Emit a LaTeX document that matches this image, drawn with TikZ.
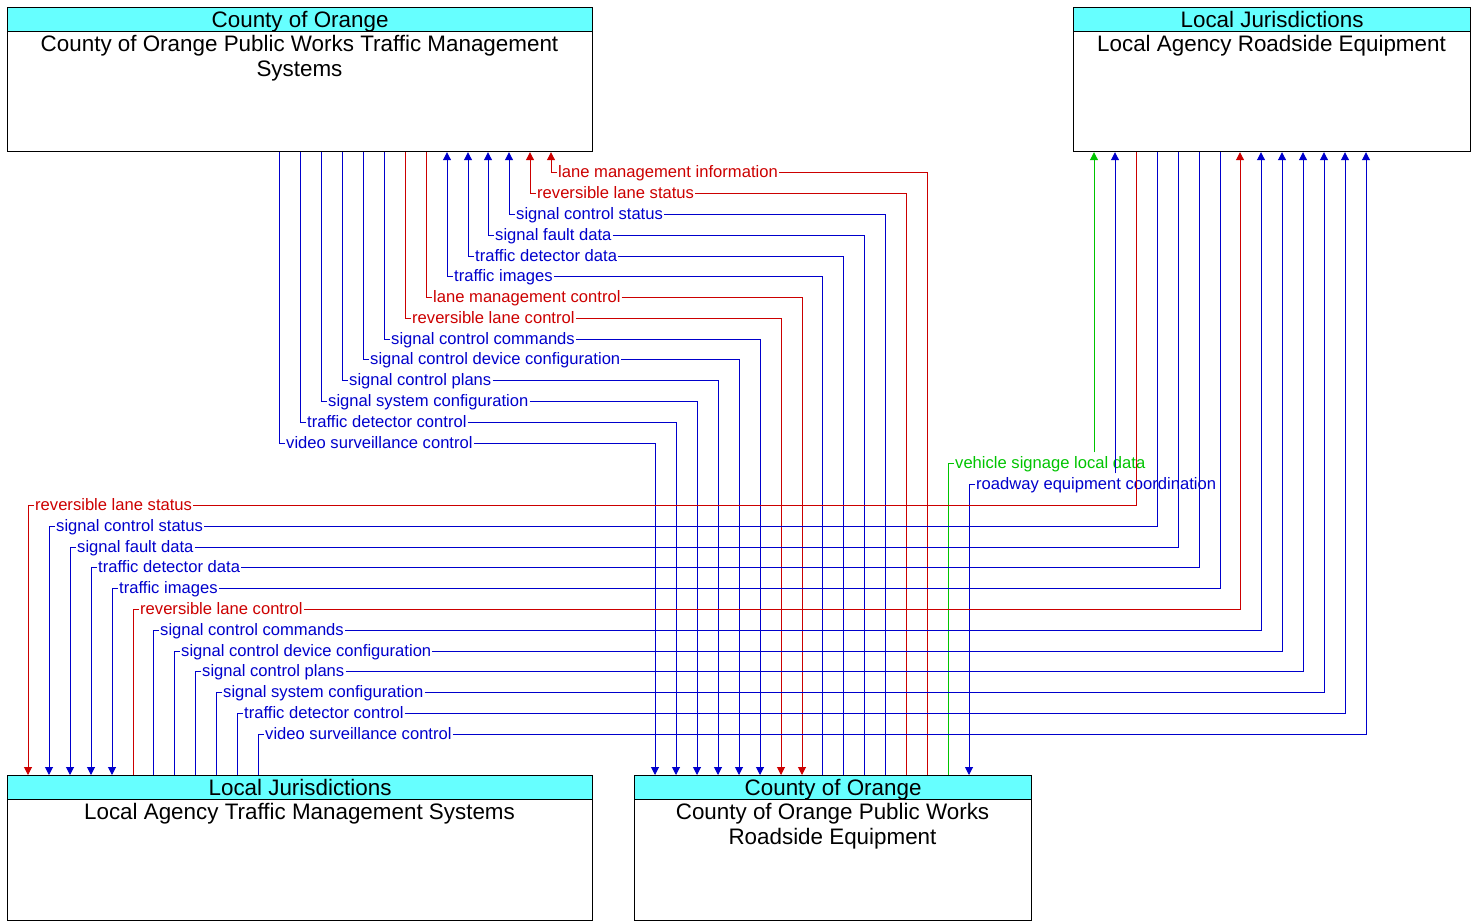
\documentclass[tikz,border=0pt]{standalone}
\usepackage{fontspec}
\setmainfont{Liberation Sans}
\usetikzlibrary{arrows.meta}
\definecolor{fred}{RGB}{204,0,0}
\definecolor{fblue}{RGB}{0,0,204}
\definecolor{fgreen}{RGB}{0,196,0}
\definecolor{hdrcyan}{RGB}{102,255,255}
\newcommand\lblfont{\fontsize{16.6pt}{19pt}\selectfont}
\newcommand\ttlfont{\fontsize{22.4pt}{25.3pt}\selectfont}
\begin{document}
\begin{tikzpicture}[x=1pt,y=-1pt,
  box/.style={draw=black, line width=1.2pt, fill=white, anchor=north west, inner sep=0pt},
  hdr/.style={draw=black, line width=1.2pt, fill=hdrcyan, anchor=north west, inner sep=0pt,
     minimum height=24pt, font=\ttlfont, text height=16pt, text depth=0pt},
  bodytext/.style={font=\ttlfont, anchor=north, align=center, inner sep=0pt},
  lbl/.style={font=\lblfont, anchor=west, inner xsep=1pt, inner ysep=3pt, text height=13pt, text depth=2pt},
  conn/.style={line width=1pt},
  arrowend/.style={-{Triangle[length=8pt,width=8pt]}},
  lr/.style={lbl, text=fred}, lb/.style={lbl, text=fblue}, lg/.style={lbl, text=fgreen},
  cr/.style={conn, draw=fred}, cb/.style={conn, draw=fblue}, cg/.style={conn, draw=fgreen},
]
\useasboundingbox (0,0) rectangle (1473,921);
% boxes
\node[box, minimum width=585pt, minimum height=144pt] (tl) at (7,7) {};
\node[hdr, minimum width=585pt] (tlh) at (7,7) {County of Orange};
\node[bodytext] (tlt) at (299.5,34.7) {County of Orange Public Works Traffic Management\\Systems};

\node[box, minimum width=397pt, minimum height=144pt] (tr) at (1073,7) {};
\node[hdr, minimum width=397pt] (trh) at (1073,7) {Local Jurisdictions};
\node[bodytext] (trt) at (1271.5,34.7) {Local Agency Roadside Equipment};

\node[box, minimum width=585pt, minimum height=145pt] (bl) at (7,775) {};
\node[hdr, minimum width=585pt] (blh) at (7,775) {Local Jurisdictions};
\node[bodytext] (blt) at (299.5,802.7) {Local Agency Traffic Management Systems};

\node[box, minimum width=397pt, minimum height=145pt] (bm) at (634,775) {};
\node[hdr, minimum width=397pt] (bmh) at (634,775) {County of Orange};
\node[bodytext] (bmt) at (832.5,802.7) {County of Orange Public Works\\Roadside Equipment};

% labels
\node[lr] (l1) at (557,172) {lane management information};
\node[lr] (l2) at (536,193) {reversible lane status};
\node[lb] (l3) at (515,214) {signal control status};
\node[lb] (l4) at (494,235) {signal fault data};
\node[lb] (l5) at (474,256) {traffic detector data};
\node[lb] (l6) at (453,276) {traffic images};
\node[lr] (l7) at (432,297) {lane management control};
\node[lr] (l8) at (411,318) {reversible lane control};
\node[lb] (l9) at (390,339) {signal control commands};
\node[lb] (l10) at (369,359) {signal control device configuration};
\node[lb] (l11) at (348,380) {signal control plans};
\node[lb] (l12) at (327,401) {signal system configuration};
\node[lb] (l13) at (306,422) {traffic detector control};
\node[lb] (l14) at (285,443) {video surveillance control};
\node[lg] (l15) at (954,463) {vehicle signage local data};
\node[lb] (l16) at (975,484) {roadway equipment coordination};
\node[lr] (l17) at (34,505) {reversible lane status};
\node[lb] (l18) at (55,526) {signal control status};
\node[lb] (l19) at (76,547) {signal fault data};
\node[lb] (l20) at (97,567) {traffic detector data};
\node[lb] (l21) at (118,588) {traffic images};
\node[lr] (l22) at (139,609) {reversible lane control};
\node[lb] (l23) at (159,630) {signal control commands};
\node[lb] (l24) at (180,651) {signal control device configuration};
\node[lb] (l25) at (201,671) {signal control plans};
\node[lb] (l26) at (222,692) {signal system configuration};
\node[lb] (l27) at (243,713) {traffic detector control};
\node[lb] (l28) at (264,734) {video surveillance control};

% TL <- BM
\draw[cr,arrowend] (l1.west) -| (551,0 |- tl.south);  \draw[cr] (l1.east) -| (927,0 |- bm.north);
\draw[cr,arrowend] (l2.west) -| (530,0 |- tl.south);  \draw[cr] (l2.east) -| (906,0 |- bm.north);
\draw[cb,arrowend] (l3.west) -| (509,0 |- tl.south);  \draw[cb] (l3.east) -| (885,0 |- bm.north);
\draw[cb,arrowend] (l4.west) -| (488,0 |- tl.south);  \draw[cb] (l4.east) -| (864,0 |- bm.north);
\draw[cb,arrowend] (l5.west) -| (468,0 |- tl.south);  \draw[cb] (l5.east) -| (843,0 |- bm.north);
\draw[cb,arrowend] (l6.west) -| (447,0 |- tl.south);  \draw[cb] (l6.east) -| (822,0 |- bm.north);
% TL -> BM
\draw[cr] (l7.west) -| (426,0 |- tl.south);  \draw[cr,arrowend] (l7.east) -| (802,0 |- bm.north);
\draw[cr] (l8.west) -| (405,0 |- tl.south);  \draw[cr,arrowend] (l8.east) -| (781,0 |- bm.north);
\draw[cb] (l9.west) -| (384,0 |- tl.south);  \draw[cb,arrowend] (l9.east) -| (760,0 |- bm.north);
\draw[cb] (l10.west) -| (363,0 |- tl.south); \draw[cb,arrowend] (l10.east) -| (739,0 |- bm.north);
\draw[cb] (l11.west) -| (342,0 |- tl.south); \draw[cb,arrowend] (l11.east) -| (718,0 |- bm.north);
\draw[cb] (l12.west) -| (321,0 |- tl.south); \draw[cb,arrowend] (l12.east) -| (697,0 |- bm.north);
\draw[cb] (l13.west) -| (300,0 |- tl.south); \draw[cb,arrowend] (l13.east) -| (676,0 |- bm.north);
\draw[cb] (l14.west) -| (279,0 |- tl.south); \draw[cb,arrowend] (l14.east) -| (655,0 |- bm.north);
% BM <-> TR
\draw[cg] (l15.west) -| (948,0 |- bm.north);
\draw[cg,arrowend] (1094,0 |- l15.north) -- (1094,0 |- tr.south);
\draw[cb,arrowend] (l16.west) -| (969,0 |- bm.north);
\draw[cb,arrowend] (1115,0 |- l16.north) -- (1115,0 |- tr.south);
% TR -> BL
\draw[cr,arrowend] (l17.west) -| (28,0 |- bl.north);  \draw[cr] (l17.east) -| (1136,0 |- tr.south);
\draw[cb,arrowend] (l18.west) -| (49,0 |- bl.north);  \draw[cb] (l18.east) -| (1157,0 |- tr.south);
\draw[cb,arrowend] (l19.west) -| (70,0 |- bl.north);  \draw[cb] (l19.east) -| (1178,0 |- tr.south);
\draw[cb,arrowend] (l20.west) -| (91,0 |- bl.north);  \draw[cb] (l20.east) -| (1199,0 |- tr.south);
\draw[cb,arrowend] (l21.west) -| (112,0 |- bl.north); \draw[cb] (l21.east) -| (1220,0 |- tr.south);
% BL -> TR
\draw[cr] (l22.west) -| (133,0 |- bl.north); \draw[cr,arrowend] (l22.east) -| (1240,0 |- tr.south);
\draw[cb] (l23.west) -| (153,0 |- bl.north); \draw[cb,arrowend] (l23.east) -| (1261,0 |- tr.south);
\draw[cb] (l24.west) -| (174,0 |- bl.north); \draw[cb,arrowend] (l24.east) -| (1282,0 |- tr.south);
\draw[cb] (l25.west) -| (195,0 |- bl.north); \draw[cb,arrowend] (l25.east) -| (1303,0 |- tr.south);
\draw[cb] (l26.west) -| (216,0 |- bl.north); \draw[cb,arrowend] (l26.east) -| (1324,0 |- tr.south);
\draw[cb] (l27.west) -| (237,0 |- bl.north); \draw[cb,arrowend] (l27.east) -| (1345,0 |- tr.south);
\draw[cb] (l28.west) -| (258,0 |- bl.north); \draw[cb,arrowend] (l28.east) -| (1366,0 |- tr.south);
\end{tikzpicture}
\end{document}
